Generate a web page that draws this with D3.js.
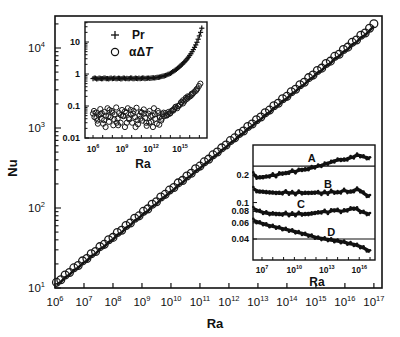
<!DOCTYPE html>
<html>
<head>
<meta charset="utf-8">
<script src="https://cdn.jsdelivr.net/npm/d3@7"></script>
<style>
  html, body { margin: 0; padding: 0; background: #fff; }
  svg { display: block; font-family: "Liberation Sans", Arial, sans-serif; }
</style>
</head>
<body>
<svg id="chart" width="400" height="337"></svg>
<script>
// ---- Main panel: Nu versus Ra (exponents of Ra) ----
const mainLogRa = [6.05,6.2,6.35,6.5,6.65,6.8,6.95,7.1,7.25,7.4,7.55,7.7,7.85,8.0,8.15,8.3,8.45,8.6,8.75,8.9,
  9.05,9.2,9.35,9.5,9.65,9.8,9.95,10.1,10.25,10.4,10.55,10.7,10.85,11.0,11.15,11.3,11.45,11.6,11.75,11.9,
  12.05,12.2,12.35,12.5,12.65,12.8,12.95,13.1,13.25,13.4,13.55,13.7,13.85,14.0,14.15,14.3,14.45,14.6,14.75,14.9,
  15.05,15.2,15.35,15.5,15.65,15.8,15.95,16.1,16.25,16.4,16.55,16.7,16.85,17.0];
const mainNu = [11.6,12.5,14.3,15.4,17.6,18.8,21.5,23.0,26.4,28.2,32.4,34.6,39.5,42.3,48.6,52.0,59.5,64.0,73.5,78.6,
  89.5,96.0,110,118,135,146,165,178,203,218,248,268,305,329,372,402,455,493,556,603,
  686,742,840,906,1030,1108,1250,1352,1525,1650,1870,2010,2290,2450,2800,3010,3420,3680,4200,4520,
  5150,5520,6300,6750,7750,8250,9450,10100,11600,12400,14200,15200,17400,19800];

// ---- Upper inset: Pr and alpha*DeltaT versus Ra ----
const prLogRa = [6.0,6.125,6.25,6.375,6.5,6.625,6.75,6.875,7.0,7.125,7.25,7.375,7.5,7.625,7.75,7.875,8.0,8.125,8.25,8.375,
  8.5,8.625,8.75,8.875,9.0,9.125,9.25,9.375,9.5,9.625,9.75,9.875,10.0,10.125,10.25,10.375,10.5,10.625,10.75,10.875,
  11.0,11.125,11.25,11.375,11.5,11.625,11.75,11.875,12.0,12.125,12.25,12.375,12.5,12.625,12.75,12.875,13.0,13.125,13.25,13.375,
  13.5,13.625,13.75,13.875,14.0,14.125,14.25,14.375,14.5,14.625,14.75,14.875,15.0,15.125,15.25,15.375,15.5,15.625,15.75,15.875,
  16.0,16.125,16.25,16.375,16.5,16.625,16.75,16.875,17.0,17.125,17.25];
const prValues = [0.72,0.75,0.74,0.7,0.71,0.74,0.73,0.71,0.72,0.75,0.74,0.72,0.72,0.7,0.73,0.75,0.71,0.73,0.74,0.71,
  0.72,0.74,0.73,0.7,0.72,0.75,0.74,0.71,0.73,0.72,0.72,0.75,0.74,0.71,0.72,0.74,0.73,0.72,0.74,0.71,
  0.73,0.75,0.74,0.72,0.73,0.74,0.75,0.73,0.74,0.76,0.76,0.75,0.77,0.78,0.79,0.8,0.82,0.84,0.86,0.88,
  0.9,0.93,0.97,1.0,1.05,1.1,1.18,1.24,1.32,1.4,1.5,1.62,1.75,1.9,2.05,2.25,2.45,2.7,3.0,3.35,
  3.8,4.3,5.0,5.8,6.8,8.1,9.8,12.2,15.5,20,27];
const adtLogRa = [6.0,6.15,6.3,6.45,6.6,6.75,6.9,7.05,7.2,7.35,7.5,7.65,7.8,7.95,8.1,8.25,8.4,8.55,8.7,8.85,
  9.0,9.15,9.3,9.45,9.6,9.75,9.9,10.05,10.2,10.35,10.5,10.65,10.8,10.95,11.1,11.25,11.4,11.55,11.7,11.85,
  12.0,12.15,12.3,12.45,12.6,12.75,12.9,13.05,13.2,13.35,13.5,13.65,13.8,13.95,14.1,14.25,14.4,14.55,14.7,14.85,
  15.0,15.15,15.3,15.45,15.6,15.75,15.9,16.05,16.2,16.35,16.5,16.65,16.8,16.95,17.1,
  6.1,6.5,6.9,7.3,7.7,8.2,8.6,9.1,9.5,9.9,10.4,10.9,11.3,11.8,12.2,12.7,13.1,13.6,14.0,14.5,15.1,15.6,16.2,16.7,
  6.35,6.8,7.15,7.6,8.0,8.45,8.9,9.3,9.7,10.15,10.6,11.05,11.5,11.95,12.4,12.85,13.3,13.8,14.3,14.8,15.3,15.8];
const adtValues = [0.058,0.045,0.062,0.035,0.052,0.08,0.04,0.028,0.065,0.05,0.085,0.032,0.045,0.07,0.025,0.055,0.09,0.04,0.06,0.03,
  0.075,0.048,0.022,0.062,0.085,0.038,0.055,0.03,0.07,0.045,0.088,0.027,0.05,0.065,0.035,0.078,0.042,0.024,0.058,0.07,
  0.032,0.05,0.085,0.04,0.028,0.06,0.045,0.035,0.055,0.048,0.06,0.052,0.065,0.058,0.07,0.075,0.08,0.095,0.085,0.1,
  0.11,0.13,0.12,0.14,0.16,0.17,0.19,0.2,0.22,0.25,0.28,0.3,0.35,0.42,0.5,
  0.07,0.028,0.06,0.022,0.075,0.038,0.025,0.05,0.03,0.075,0.022,0.04,0.058,0.03,0.022,0.07,0.04,0.05,0.06,0.09,0.13,0.18,0.24,0.33,
  0.042,0.055,0.036,0.048,0.062,0.03,0.052,0.068,0.042,0.058,0.036,0.062,0.03,0.048,0.055,0.026,0.062,0.056,0.072,0.1,0.15,0.2];

// ---- Lower inset: curves A-D versus Ra ----
const curveLogRa = [6.2,6.5,6.8,7.1,7.4,7.7,8.0,8.3,8.6,8.9,9.2,9.5,9.8,10.1,10.4,10.7,11.0,11.3,11.6,11.9,
  12.2,12.5,12.8,13.1,13.4,13.7,14.0,14.3,14.6,14.9,15.2,15.5,15.8,16.1,16.4,16.7,17.0];
const curveA = [0.205,0.19,0.186,0.192,0.19,0.196,0.2,0.197,0.205,0.21,0.207,0.215,0.22,0.217,0.225,0.23,0.227,0.235,0.24,0.245,
  0.25,0.255,0.262,0.27,0.275,0.285,0.29,0.296,0.29,0.3,0.31,0.316,0.33,0.325,0.315,0.31,0.3];
const curveB = [0.142,0.135,0.13,0.133,0.128,0.131,0.127,0.129,0.126,0.128,0.131,0.127,0.128,0.125,0.13,0.128,0.126,0.129,0.126,0.13,
  0.128,0.126,0.129,0.127,0.132,0.13,0.128,0.131,0.136,0.132,0.13,0.135,0.14,0.135,0.127,0.12,0.116];
const curveC = [0.086,0.083,0.08,0.078,0.077,0.076,0.075,0.076,0.074,0.075,0.076,0.074,0.075,0.074,0.076,0.075,0.074,0.076,0.075,0.078,
  0.077,0.079,0.08,0.078,0.081,0.083,0.082,0.08,0.081,0.083,0.085,0.087,0.085,0.08,0.078,0.076,0.074];
const curveD = [0.064,0.062,0.06,0.059,0.057,0.056,0.055,0.054,0.053,0.052,0.051,0.05,0.049,0.048,0.047,0.046,0.045,0.044,0.043,0.042,
  0.041,0.0405,0.04,0.0395,0.039,0.0385,0.038,0.0375,0.037,0.036,0.0355,0.035,0.034,0.033,0.032,0.0305,0.029];
const curveNames = ["A", "B", "C", "D"];
const refLevels = [0.25, 0.04];

// ---- Tick labels ----
const mainXTickExp = [6,7,8,9,10,11,12,13,14,15,16,17];
const mainYTickExp = [1,2,3,4];
const inset1YTicks = ["10", "1", "0.1", "0.01"];
const inset1XTickExp = [6,9,12,15];
const inset2YTicks = ["0.2", "0.1", "0.08", "0.06", "0.04"];
const inset2XTickExp = [7,10,13,16];

const svg = d3.select("#chart");
const pow = e => Math.pow(10, e);

// power-of-ten label: "10" with a raised exponent
function powerLabel(sel, exp, base, sup) {
  sel.text(null);
  sel.append("tspan").text("10").style("font-size", base + "px");
  sel.append("tspan").text(exp).attr("dy", -base * 0.45).style("font-size", sup + "px");
}

// log-axis tick values (1..9 × 10^k)
function minorTicks(lo, hi) {
  const out = [];
  for (let k = Math.floor(Math.log10(lo)); k <= Math.ceil(Math.log10(hi)); k++) {
    for (let m = 1; m < 10; m++) {
      const v = m * pow(k);
      if (v >= lo * 0.999 && v <= hi * 1.001) out.push(v);
    }
  }
  return out;
}
const isDecade = v => Math.abs(Math.log10(v) - Math.round(Math.log10(v))) < 1e-9;

// ===== Main panel =====
const x = d3.scaleLog().domain([1e6, pow(17.28)]).range([55, 382]);
const y = d3.scaleLog().domain([10, pow(4.4)]).range([288, 16]);

const main = svg.append("g");
main.append("rect").attr("x", 55).attr("y", 16).attr("width", 327).attr("height", 272)
  .attr("fill", "none").attr("stroke", "#111").attr("stroke-width", 1.6);

mainXTickExp.forEach(e => {
  const px = x(pow(e));
  main.append("line").attr("x1", px).attr("x2", px).attr("y1", 288).attr("y2", 283)
    .attr("stroke", "#111").attr("stroke-width", 1.2);
  main.append("text").attr("x", px).attr("y", 306).attr("text-anchor", "middle")
    .attr("fill", "#111").call(s => powerLabel(s, e, 11.5, 7.5));
});
minorTicks(10, pow(4.4)).forEach(v => {
  main.append("line").attr("x1", 55).attr("x2", 55 + (isDecade(v) ? 6 : 3.5))
    .attr("y1", y(v)).attr("y2", y(v)).attr("stroke", "#111").attr("stroke-width", 1.1);
});
mainYTickExp.forEach(e => {
  main.append("text").attr("x", 45).attr("y", y(pow(e)) + 4).attr("text-anchor", "end")
    .attr("fill", "#111").call(s => powerLabel(s, e, 11.5, 7.5));
});
main.append("text").attr("x", 215).attr("y", 328).attr("text-anchor", "middle")
  .style("font-size", "13px").style("font-weight", "bold").attr("fill", "#111").text("Ra");
main.append("text").attr("transform", "translate(17,168) rotate(-90)").attr("text-anchor", "middle")
  .style("font-size", "13px").style("font-weight", "bold").attr("fill", "#111").text("Nu");

// data: a dark trace with overlapping open circles along it
const mainPts = mainLogRa.map((r, i) => [pow(r), mainNu[i]]);
main.append("path").datum(mainPts)
  .attr("d", d3.line().x(d => x(d[0])).y(d => y(d[1]) + 1.8))
  .attr("fill", "none").attr("stroke", "#111").attr("stroke-width", 2.6);
main.selectAll("circle.nu").data(mainPts).join("circle").attr("class", "nu")
  .attr("cx", d => x(d[0])).attr("cy", d => y(d[1]) - 0.5).attr("r", 3.9)
  .attr("fill", "none").attr("stroke", "#1a1a1a").attr("stroke-width", 1.3);

// ===== Upper inset =====
const x1 = d3.scaleLog().domain([pow(5.17), pow(17.79)]).range([85, 207]);
const y1 = d3.scaleLog().domain([0.01, pow(1.625)]).range([138, 22]);
const in1 = svg.append("g");
in1.append("rect").attr("x", 85).attr("y", 22).attr("width", 122).attr("height", 116)
  .attr("fill", "#fff").attr("stroke", "#111").attr("stroke-width", 1.4);
minorTicks(0.01, pow(1.625)).forEach(v => {
  in1.append("line").attr("x1", 85).attr("x2", 85 + (isDecade(v) ? 4 : 2.5))
    .attr("y1", y1(v)).attr("y2", y1(v)).attr("stroke", "#111").attr("stroke-width", 1);
});
inset1YTicks.forEach(t => {
  in1.append("text").attr("x", 80).attr("y", y1(+t) + 3).attr("text-anchor", "end")
    .style("font-size", "9px").style("font-weight", "bold").attr("fill", "#111").text(t);
});
for (let e = 6; e <= 17; e++) {
  in1.append("line").attr("x1", x1(pow(e))).attr("x2", x1(pow(e))).attr("y1", 138).attr("y2", 135)
    .attr("stroke", "#111").attr("stroke-width", 1);
}
inset1XTickExp.forEach(e => {
  in1.append("text").attr("x", x1(pow(e))).attr("y", 152).attr("text-anchor", "middle")
    .style("font-weight", "bold").attr("fill", "#111").call(s => powerLabel(s, e, 8.5, 5.5));
});
in1.append("text").attr("x", 143).attr("y", 168).attr("text-anchor", "middle")
  .style("font-size", "12px").style("font-weight", "bold").attr("fill", "#111").text("Ra");

// alpha*DeltaT as open circles
in1.selectAll("circle.adt").data(adtLogRa.map((r, i) => [pow(r), adtValues[i]])).join("circle")
  .attr("class", "adt").attr("cx", d => x1(d[0])).attr("cy", d => y1(d[1])).attr("r", 2.6)
  .attr("fill", "none").attr("stroke", "#1a1a1a").attr("stroke-width", 1);
// Pr as plus markers
in1.selectAll("g.prm").data(prLogRa.map((r, i) => [pow(r), prValues[i]])).join("g")
  .attr("class", "prm").attr("transform", d => `translate(${x1(d[0])},${y1(d[1])})`)
  .each(function () {
    const g = d3.select(this);
    g.append("line").attr("x1", -2.6).attr("x2", 2.6).attr("stroke", "#111").attr("stroke-width", 1.2);
    g.append("line").attr("y1", -2.6).attr("y2", 2.6).attr("stroke", "#111").attr("stroke-width", 1.2);
  });

// legend
const lg = in1.append("g");
lg.append("line").attr("x1", 111).attr("x2", 119).attr("y1", 35).attr("y2", 35).attr("stroke", "#111").attr("stroke-width", 1.3);
lg.append("line").attr("x1", 115).attr("x2", 115).attr("y1", 31).attr("y2", 39).attr("stroke", "#111").attr("stroke-width", 1.3);
lg.append("text").attr("x", 132).attr("y", 39).style("font-size", "12px").style("font-weight", "bold")
  .attr("fill", "#111").text("Pr");
lg.append("circle").attr("cx", 115).attr("cy", 52).attr("r", 3.6).attr("fill", "none")
  .attr("stroke", "#111").attr("stroke-width", 1.2);
const at = lg.append("text").attr("x", 129).attr("y", 56).style("font-size", "12px").style("font-weight", "bold")
  .attr("fill", "#111");
at.append("tspan").text("αΔ");
at.append("tspan").text("T").style("font-style", "italic");

// ===== Lower inset =====
const x2 = d3.scaleLog().domain([pow(6.17), pow(17.46)]).range([253, 375]);
const y2 = d3.scaleLog().domain([0.0236, 0.425]).range([260, 145]);
const in2 = svg.append("g");
in2.append("rect").attr("x", 253).attr("y", 145).attr("width", 122).attr("height", 115)
  .attr("fill", "#fff").attr("stroke", "#111").attr("stroke-width", 1.4);
inset2YTicks.forEach(t => {
  in2.append("line").attr("x1", 253).attr("x2", 257).attr("y1", y2(+t)).attr("y2", y2(+t))
    .attr("stroke", "#111").attr("stroke-width", 1);
  in2.append("text").attr("x", 249).attr("y", y2(+t) + 3).attr("text-anchor", "end")
    .style("font-size", "9px").style("font-weight", "bold").attr("fill", "#111").text(t);
});
for (let e = 7; e <= 17; e++) {
  in2.append("line").attr("x1", x2(pow(e))).attr("x2", x2(pow(e))).attr("y1", 260).attr("y2", 257)
    .attr("stroke", "#111").attr("stroke-width", 1);
}
inset2XTickExp.forEach(e => {
  in2.append("text").attr("x", x2(pow(e))).attr("y", 273).attr("text-anchor", "middle")
    .style("font-weight", "bold").attr("fill", "#111").call(s => powerLabel(s, e, 8.5, 5.5));
});
in2.append("text").attr("x", 317).attr("y", 286).attr("text-anchor", "middle")
  .style("font-size", "12px").style("font-weight", "bold").attr("fill", "#111").text("Ra");

refLevels.forEach(v => {
  in2.append("line").attr("x1", 253).attr("x2", 375).attr("y1", y2(v)).attr("y2", y2(v))
    .attr("stroke", "#111").attr("stroke-width", 1.1);
});
const curves = [curveA, curveB, curveC, curveD];
const line2 = d3.line().x(d => x2(d[0])).y(d => y2(d[1]));
curves.forEach(c => {
  const pts = curveLogRa.map((r, i) => [pow(r), c[i]]);
  in2.append("path").datum(pts)
    .attr("d", line2).attr("fill", "none").attr("stroke", "#111").attr("stroke-width", 3.4)
    .attr("stroke-linejoin", "round");
  // small dots along each curve give it the ragged edge of dense samples
  in2.selectAll(null).data(pts).join("circle")
    .attr("cx", d => x2(d[0])).attr("cy", (d, i) => y2(d[1]) + (i % 2 ? 1.6 : -1.6)).attr("r", 1.3)
    .attr("fill", "#111");
});
const curveLabelPos = [[11.6, 0.275], [13.1, 0.145], [10.6, 0.088], [13.4, 0.043]];
curveNames.forEach((n, i) => {
  in2.append("text").attr("x", x2(pow(curveLabelPos[i][0]))).attr("y", y2(curveLabelPos[i][1]))
    .attr("text-anchor", "middle").style("font-size", "11px").style("font-weight", "bold")
    .attr("fill", "#111").text(n);
});
</script>
</body>
</html>
